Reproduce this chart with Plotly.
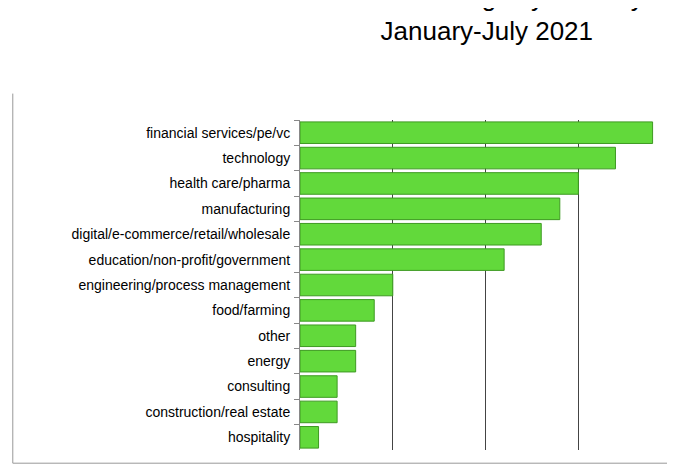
import plotly.graph_objects as go

industries = [
    "financial services/pe/vc", "technology", "health care/pharma", "manufacturing",
    "digital/e-commerce/retail/wholesale", "education/non-profit/government",
    "engineering/process management", "food/farming", "other", "energy",
    "consulting", "construction/real estate", "hospitality",
]
landings = [19, 17, 15, 14, 13, 11, 5, 4, 3, 3, 2, 2, 1]

fig = go.Figure(go.Bar(
    x=landings, y=industries, orientation="h",
    marker=dict(color="#62D93B", line=dict(color="#3E9A22", width=1)),
    width=0.85,
))

# plot area: 373 x 330 px
fig.update_layout(
    width=675, height=468,
    paper_bgcolor="white", plot_bgcolor="white",
    margin=dict(l=292, r=10, t=112, b=26, autoexpand=False),
    font=dict(family="Liberation Sans, Arial", size=14, color="black"),
    showlegend=False,
    annotations=[dict(text="Client Landings by Industry<br>January-July 2021",
                      xref="paper", yref="paper", x=0.5, y=1.32,
                      xanchor="center", yanchor="middle", showarrow=False,
                      font=dict(size=26, color="black"))],
    shapes=[
        dict(type="line", xref="paper", yref="paper", x0=-0.77, x1=-0.77,
             y0=-0.04, y1=1.08, line=dict(color="#999999", width=1)),
        dict(type="line", xref="paper", yref="paper", x0=-0.77, x1=1.008,
             y0=-0.04, y1=-0.04, line=dict(color="#999999", width=1)),
    ],
)
fig.update_xaxes(range=[0, 20.1], dtick=5, showgrid=True, gridcolor="#444444",
                 gridwidth=1, showticklabels=False, showline=False,
                 zeroline=False, ticks="", automargin=False)
fig.update_yaxes(autorange="reversed", showline=True, linecolor="#888888",
                 ticks="outside", tickson="boundaries", ticklen=5,
                 tickcolor="#888888", ticklabelstandoff=6, automargin=False)

fig.write_html("out.html")
